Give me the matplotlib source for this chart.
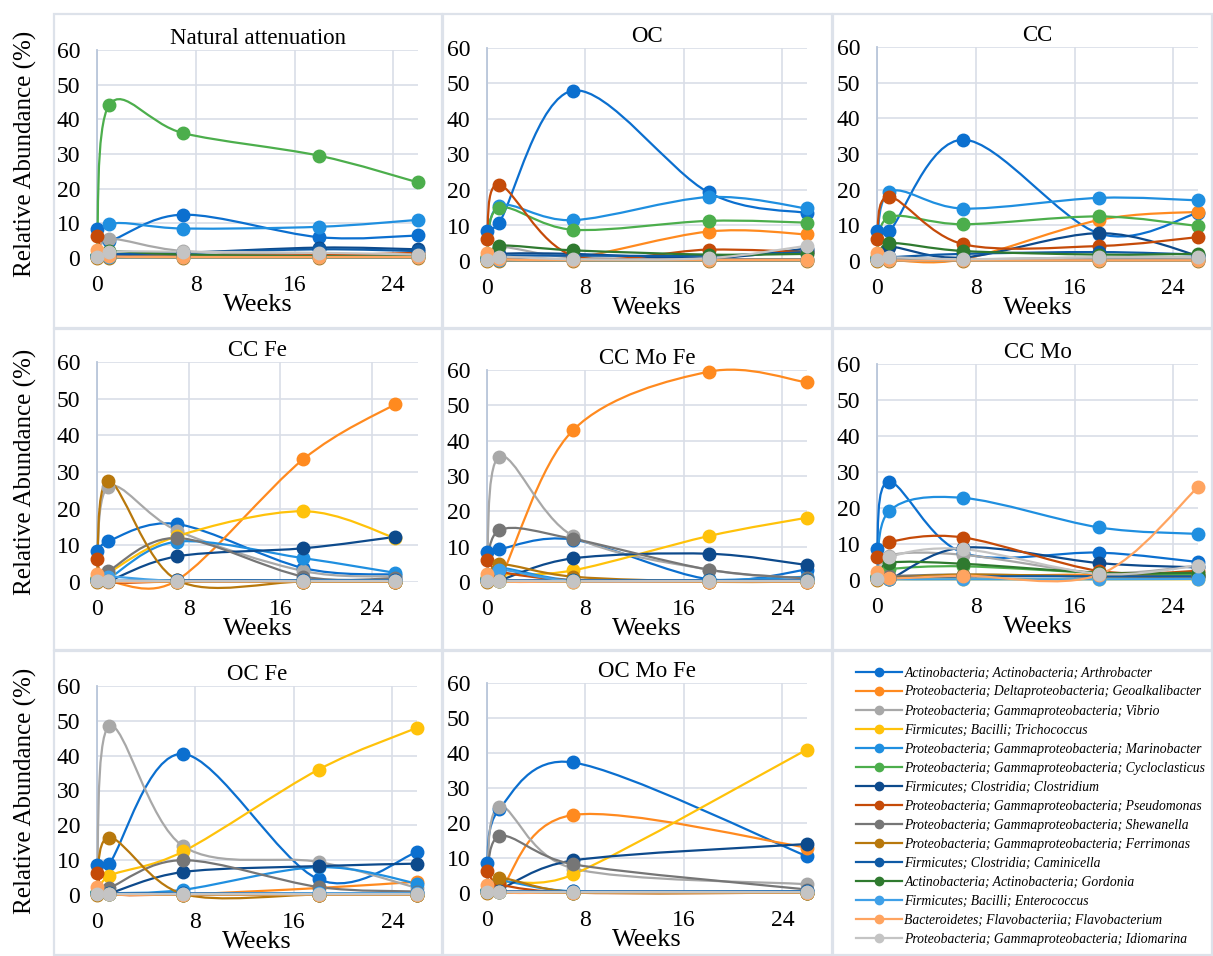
import numpy as np
import matplotlib
matplotlib.use("Agg")
import matplotlib.pyplot as plt
from matplotlib.path import Path
from matplotlib.patches import PathPatch, Rectangle
from matplotlib.lines import Line2D

plt.rcParams['font.family'] = ['Liberation Serif', 'DejaVu Serif']

W, H = 1213, 956

weeks = [0, 1, 7, 18, 26]
nan = np.nan

taxa = [
    "Actinobacteria; Actinobacteria; Arthrobacter",
    "Proteobacteria; Deltaproteobacteria; Geoalkalibacter",
    "Proteobacteria; Gammaproteobacteria; Vibrio",
    "Firmicutes; Bacilli; Trichococcus",
    "Proteobacteria; Gammaproteobacteria; Marinobacter",
    "Proteobacteria; Gammaproteobacteria; Cycloclasticus",
    "Firmicutes; Clostridia; Clostridium",
    "Proteobacteria; Gammaproteobacteria; Pseudomonas",
    "Proteobacteria; Gammaproteobacteria; Shewanella",
    "Proteobacteria; Gammaproteobacteria; Ferrimonas",
    "Firmicutes; Clostridia; Caminicella",
    "Actinobacteria; Actinobacteria; Gordonia",
    "Firmicutes; Bacilli; Enterococcus",
    "Bacteroidetes; Flavobacteriia; Flavobacterium",
    "Proteobacteria; Gammaproteobacteria; Idiomarina",
]

colors = ['#0b6fcf', '#ff8a1f', '#a8a8a8', '#ffc20a', '#1f8fe0',
          '#4cae4c', '#0d4a8c', '#c54a08', '#767676', '#b8780c',
          '#0e5aa5', '#2f7a2f', '#3fa0e8', '#ffa460', '#c4c4c4']

# rows follow the taxa order, columns follow weeks
natural = [
    [8.5, 5.0, 12.5, 6.0, 6.5],
    [0.3, 0.3, 0.5, 0.5, 0.5],
    [0.3, 5.5, 2.0, 1.0, 1.0],
    [0.2, 0.2, 0.2, 0.2, 0.2],
    [0.5, 9.7, 8.5, 9.0, 11.0],
    [1.0, 44.2, 36.0, 29.5, 21.8],
    [0.5, 1.0, 1.5, 3.0, 2.5],
    [6.3, 1.0, 0.8, 0.8, 1.5],
    [0.2, 0.5, 0.5, 0.5, 0.5],
    [0.1, 0.1, 0.1, 0.1, 0.1],
    [0.5, 1.0, 1.5, 2.5, 2.0],
    [1.0, 2.0, 1.0, 0.5, 0.5],
    [0.5, 0.2, 0.2, 0.2, 0.2],
    [2.3, 0.5, 0.3, 0.3, 0.3],
    [0.2, 1.8, 1.8, 1.5, 1.0],
]

oc = [
    [8.5, 10.8, 48.0, 19.3, 13.5],
    [0.3, 0.5, 0.8, 8.3, 7.5],
    [0.3, 4.0, 1.0, 1.0, 3.0],
    [0.2, 0.2, 0.2, 0.2, 0.2],
    [0.5, 15.5, 11.5, 18.0, 14.8],
    [1.0, 15.0, 8.8, 11.3, 10.8],
    [0.5, 2.0, 2.0, 0.8, 3.5],
    [6.3, 21.5, 1.5, 3.2, 2.5],
    [0.2, 1.0, 0.5, 0.5, 0.5],
    [0.1, 0.1, 0.1, 0.1, 0.1],
    [0.5, 1.5, 1.5, 1.5, 2.5],
    [1.0, 4.3, 3.0, 1.8, 2.0],
    [0.5, 0.2, 0.2, 0.2, 0.2],
    [2.3, 0.5, 0.3, 0.3, 0.3],
    [0.2, 1.2, 0.5, 0.8, 4.3],
]

cc = [
    [8.5, 8.3, 34.0, 7.7, 13.5],
    [0.3, 0.3, 0.5, 11.5, 13.8],
    [0.3, 1.0, 0.5, 1.0, 1.0],
    [0.2, 0.2, 0.2, 0.2, 0.2],
    [0.5, 19.3, 14.7, 17.7, 17.0],
    [1.0, 12.3, 10.3, 12.5, 9.8],
    [0.5, 4.0, 1.0, 7.8, 1.5],
    [6.3, 18.0, 4.7, 4.2, 6.7],
    [0.2, 0.5, 0.5, 0.5, 0.5],
    [0.1, 0.1, 0.1, 0.1, 0.1],
    [0.5, 1.0, 2.0, 2.5, 1.8],
    [1.0, 5.0, 2.8, 1.8, 2.0],
    [0.5, 0.2, 0.2, 0.2, 0.2],
    [2.3, 0.3, 0.2, 0.2, 0.2],
    [0.2, 1.0, 0.5, 1.0, 1.0],
]

cc_fe = [
    [8.5, 11.2, 15.8, 3.8, 2.0],
    [0.3, 0.1, 0.5, 33.5, 48.5],
    [0.3, 26.0, 14.0, 3.0, 1.5],
    [0.2, 2.5, 12.5, 19.3, 12.0],
    [0.5, 1.0, 11.0, 6.5, 2.5],
    [1.0, 0.2, 0.1, 0.1, 0.1],
    [0.5, 0.3, 7.0, 9.2, 12.3],
    [6.3, 0.3, 0.1, 0.1, 0.1],
    [0.2, 3.0, 12.0, 1.5, 1.0],
    [0.1, 27.5, 0.5, 0.1, 0.1],
    [0.5, 0.3, 0.5, 0.5, 0.5],
    [1.0, 0.2, 0.1, 0.1, 0.1],
    [0.5, 1.5, 0.3, 0.3, 0.3],
    [2.3, 0.2, 0.1, 0.1, 0.1],
    [0.2, 0.3, 0.3, 0.3, 0.3],
]

cc_mo_fe = [
    [8.5, 9.3, 12.0, 0.8, 3.5],
    [0.3, 0.5, 43.0, 59.5, 56.5],
    [0.3, 35.5, 13.0, 3.5, 1.0],
    [0.2, 2.0, 3.3, 13.0, 18.2],
    [0.5, 4.0, 0.5, 0.5, 1.5],
    [1.0, 0.3, 0.1, 0.1, 0.1],
    [0.5, 0.5, 6.7, 8.0, 4.8],
    [6.3, 3.0, 0.5, 0.1, 0.1],
    [0.2, 14.6, 12.2, 3.5, 1.0],
    [0.1, 5.0, 1.5, 0.1, 0.1],
    [0.5, 0.5, 0.5, 0.5, 0.5],
    [1.0, 0.3, 0.2, 0.2, 0.2],
    [0.5, 3.5, 0.3, 0.3, 0.3],
    [2.3, 0.2, 0.1, 0.1, 0.1],
    [0.2, 0.3, 0.3, 0.3, 0.3],
]

cc_mo = [
    [8.5, 27.3, 7.5, 7.6, 5.0],
    [0.3, 0.3, 1.0, 1.5, 1.0],
    [0.3, 6.8, 7.0, 2.0, 4.0],
    [0.2, 0.2, 0.2, 0.2, 0.2],
    [0.5, 19.2, 22.8, 14.6, 12.8],
    [1.0, 3.0, 3.8, 2.0, 1.5],
    [0.5, 0.2, 9.0, 4.7, 3.5],
    [6.3, 10.5, 11.8, 2.5, 2.5],
    [0.2, 1.0, 1.5, 1.0, 1.0],
    [0.1, 0.5, 1.5, 1.0, 1.0],
    [0.5, 0.5, 1.0, 1.0, 1.0],
    [1.0, 4.8, 4.5, 2.0, 2.0],
    [0.5, 0.2, 0.2, 0.2, 0.3],
    [2.3, 0.5, 1.2, 1.5, 25.8],
    [0.2, 6.3, 8.6, 1.7, 4.0],
]

oc_fe = [
    [8.5, 9.0, 40.5, 4.5, 12.3],
    [0.3, 0.2, 0.2, 2.0, 3.8],
    [0.3, 48.5, 14.0, 9.5, 2.0],
    [0.2, 5.5, 12.5, 36.0, 48.0],
    [0.5, 0.5, 1.5, 8.0, 3.3],
    [1.0, 0.2, 0.1, 0.1, 0.1],
    [0.5, 0.5, 6.6, 8.3, 9.0],
    [6.3, 0.5, 0.1, 0.1, 0.1],
    [0.2, 2.0, 10.0, 2.3, 1.0],
    [0.1, 16.5, 0.3, 0.1, 0.1],
    [0.5, 0.5, 0.5, 0.5, 0.5],
    [1.0, 0.2, 0.1, 0.1, 0.1],
    [0.5, 0.3, 0.3, 0.5, 0.5],
    [2.3, 0.2, 0.1, 0.1, 0.1],
    [0.2, 0.3, 0.3, 0.3, 0.3],
]

oc_mo_fe = [
    [8.5, 24.0, 37.3, nan, 10.5],
    [0.3, 0.5, 22.3, nan, 13.0],
    [0.3, 24.7, 7.0, nan, 2.5],
    [0.2, 3.0, 5.3, nan, 41.0],
    [0.5, 3.5, 0.5, nan, 0.5],
    [1.0, 0.2, 0.1, nan, 0.1],
    [0.5, 1.0, 9.3, nan, 14.0],
    [6.3, 2.5, 0.1, nan, 0.1],
    [0.2, 16.2, 8.2, nan, 1.0],
    [0.1, 4.3, 0.3, nan, 0.1],
    [0.5, 0.5, 0.5, nan, 0.5],
    [1.0, 0.2, 0.1, nan, 0.1],
    [0.5, 0.3, 0.3, nan, 0.3],
    [2.3, 0.2, 0.1, nan, 0.1],
    [0.2, 0.3, 0.3, nan, 0.3],
]

# title, data, axes box in pixels (left, top, right, bottom), x max
panels = [
    ("Natural attenuation", natural, (97, 50, 418, 258), 26),
    ("OC", oc, (487, 48, 807, 261), 26),
    ("CC", cc, (877, 47, 1198, 261), 26),
    ("CC Fe", cc_fe, (97, 362, 418, 582), 28),
    ("CC Mo Fe", cc_mo_fe, (487, 370, 807, 582), 26),
    ("CC Mo", cc_mo, (877, 364, 1198, 580), 26),
    ("OC Fe", oc_fe, (97, 686, 417, 895), 26),
    ("OC Mo Fe", oc_mo_fe, (487, 683, 807, 893), 26),
]

# chart area frames (pixels)
frames = [(54, 14, 442, 328), (443, 14, 832, 328), (833, 14, 1212, 328),
          (54, 329, 442, 650), (443, 329, 832, 650), (833, 329, 1212, 650),
          (54, 651, 442, 955), (443, 651, 832, 955), (833, 651, 1212, 955)]


def smooth_path(xs, ys, sx, sy):
    # excel-like smoothed line, control arms capped at half the segment
    pts = np.column_stack([xs, ys])
    scale = np.array([sx, sy])
    n = len(pts)
    verts = [pts[0]]
    codes = [Path.MOVETO]
    for i in range(n - 1):
        p0 = pts[i - 1] if i > 0 else pts[i]
        p1 = pts[i]
        p2 = pts[i + 1]
        p3 = pts[i + 2] if i + 2 < n else pts[i + 1]
        d12 = np.hypot(*((p2 - p1) * scale))
        a1 = (p2 - p0) / 6
        a2 = (p3 - p1) / 6
        l1 = np.hypot(*(a1 * scale))
        l2 = np.hypot(*(a2 * scale))
        if l1 > d12 / 2:
            a1 = a1 * (d12 / 2) / l1
        if l2 > d12 / 2:
            a2 = a2 * (d12 / 2) / l2
        verts += [p1 + a1, p2 - a2, p2]
        codes += [Path.CURVE4] * 3
    return Path(verts, codes)


fig = plt.figure(figsize=(W / 100, H / 100), dpi=100)

for (x0, y0, x1, y1) in frames:
    fig.patches.append(Rectangle((x0 / W, 1 - y1 / H), (x1 - x0) / W, (y1 - y0) / H,
                                 transform=fig.transFigure, fill=False,
                                 edgecolor='#dde2ea', lw=1.6))

grid_c = '#d9dee7'
for k, (title, data, box, xmax) in enumerate(panels):
    l, t, r, b = box
    ax = fig.add_axes([l / W, 1 - b / H, (r - l) / W, (b - t) / H])
    ax.set_xlim(0, xmax)
    ax.set_ylim(0, 60)
    ax.set_xticks([0, 8, 16, 24])
    ax.set_yticks(range(0, 61, 10))
    ax.grid(True, color=grid_c, lw=1.2)
    ax.set_axisbelow(True)
    for s in ['top', 'right', 'bottom']:
        ax.spines[s].set_visible(False)
    ax.spines['left'].set_color('#b9c6da')
    ax.spines['left'].set_linewidth(1.3)
    ax.tick_params(length=0, labelsize=17)
    ax.tick_params(axis='y', pad=12)
    ax.tick_params(axis='x', pad=12)
    ax.set_title(title, fontsize=16.5, pad=4)
    ax.set_xlabel("Weeks", fontsize=19, labelpad=-1)
    if k % 3 == 0:
        ax.set_ylabel("Relative Abundance (%)", fontsize=18, labelpad=14)
    sx = (r - l) / xmax
    sy = (b - t) / 60
    for i, vals in enumerate(data):
        v = np.array(vals, dtype=float)
        x = np.array(weeks, dtype=float)
        ok = ~np.isnan(v)
        ax.add_patch(PathPatch(smooth_path(x[ok], v[ok], sx, sy), fill=False,
                               edgecolor=colors[i], lw=1.6, clip_on=False,
                               zorder=3 + i * 0.01))
        ax.plot(x[ok], v[ok], 'o', color=colors[i], ms=9, clip_on=False,
                zorder=4 + i * 0.01)

handles = [Line2D([], [], color=c, lw=1.6, marker='o', ms=6) for c in colors]
fig.legend(handles, taxa, loc='upper left', bbox_to_anchor=(851 / W, 1 - 661 / H),
           frameon=False, prop={'family': 'Liberation Serif', 'style': 'italic', 'size': 9.85},
           handlelength=3.3, handletextpad=0.2, labelspacing=0.44, borderaxespad=0)

fig.savefig("out.png", dpi=100)
